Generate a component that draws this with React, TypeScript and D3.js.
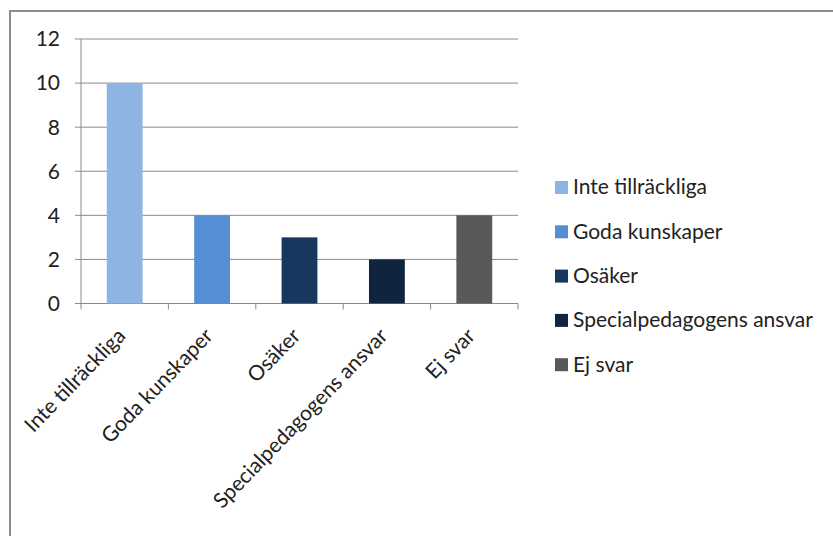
import React from "react";
import * as d3 from "d3";

const categories = [
  "Inte tillräckliga",
  "Goda kunskaper",
  "Osäker",
  "Specialpedagogens ansvar",
  "Ej svar",
];
const values = [10, 4, 3, 2, 4];
const colors = ["#8EB4E3", "#558ED5", "#17375E", "#10243F", "#595959"];
const yTicks = [0, 2, 4, 6, 8, 10, 12];

const W = 833;
const H = 536;
const FONT = "Lato, 'Open Sans', sans-serif";
const FS = 21;

export default function App() {
  const x = d3
    .scaleBand<string>()
    .domain(categories)
    .range([81, 518])
    .paddingInner(0.59)
    .paddingOuter(0.295);
  const band = d3.scaleBand<string>().domain(categories).range([81, 518]);
  const y = d3.scaleLinear().domain([0, 12]).range([303.5, 39]);

  const gridColor = "#8a8a8a";

  return (
    <svg
      width={W}
      height={H}
      style={{ position: "absolute", left: 0, top: 0, background: "#fff" }}
      fontFamily={FONT}
    >
      {/* chart frame */}
      <line x1={10} x2={W} y1={11} y2={11} stroke="#8c8c8c" strokeWidth={2} />
      <line x1={10} x2={10} y1={10} y2={H} stroke="#8c8c8c" strokeWidth={2} />

      {/* horizontal gridlines and y ticks */}
      {yTicks.map((t) => (
        <g key={t}>
          <line
            x1={75}
            x2={518}
            y1={y(t)}
            y2={y(t)}
            stroke={gridColor}
            strokeWidth={1}
          />
          <text
            x={60}
            y={y(t)}
            dy="0.35em"
            textAnchor="end"
            fontSize={FS}
            fill="#222"
          >
            {t}
          </text>
        </g>
      ))}

      {/* y axis */}
      <line x1={81} x2={81} y1={y(12)} y2={y(0)} stroke={gridColor} />

      {/* bars */}
      {categories.map((c, i) => (
        <rect
          key={c}
          x={x(c)}
          y={y(values[i])}
          width={x.bandwidth()}
          height={y(0) - y(values[i])}
          fill={colors[i]}
        />
      ))}

      {/* x axis ticks */}
      {[...categories.map((c) => band(c) as number), 518].map((px, i) => (
        <line
          key={i}
          x1={px}
          x2={px}
          y1={y(0)}
          y2={y(0) + 6}
          stroke={gridColor}
        />
      ))}

      {/* rotated category labels */}
      {categories.map((c) => {
        const cx = (band(c) as number) + band.bandwidth() / 2 + 2;
        const cy = 337;
        return (
          <text
            key={c}
            transform={`translate(${cx},${cy}) rotate(-46)`}
            textAnchor="end"
            fontSize={FS}
            fill="#222"
          >
            {c}
          </text>
        );
      })}

      {/* legend */}
      {categories.map((c, i) => {
        const ly = 187 + i * 44.3;
        return (
          <g key={c} transform={`translate(555,${ly})`}>
            <rect x={0} y={-6} width={13} height={13} fill={colors[i]} />
            <text x={18} y={0} dy="0.35em" fontSize={FS} fill="#222">
              {c}
            </text>
          </g>
        );
      })}
    </svg>
  );
}
